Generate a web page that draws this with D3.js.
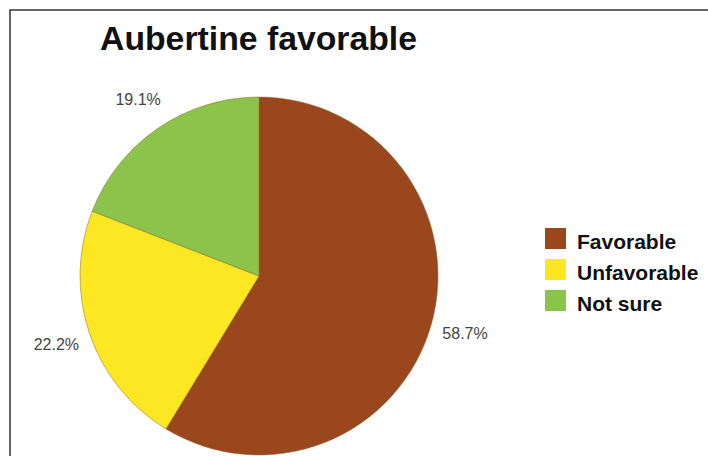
<!DOCTYPE html>
<html>
<head>
<meta charset="utf-8">
<script src="https://cdn.jsdelivr.net/npm/d3@7/dist/d3.min.js"></script>
<style>
  html, body { margin: 0; padding: 0; background: #fff; }
  svg { display: block; }
</style>
</head>
<body>
<svg id="chart" width="708" height="456"></svg>
<script>
const title = "Aubertine favorable";
const categories = ["Favorable", "Unfavorable", "Not sure"];
const values = [58.7, 22.2, 19.1];
const colors = ["#9a471d", "#fde622", "#8cc34b"];

const svg = d3.select("#chart");
const W = 708, H = 456;

// frame
svg.append("rect")
  .attr("x", 10).attr("y", 10)
  .attr("width", W + 20).attr("height", H + 20)
  .attr("fill", "#fff")
  .attr("stroke", "#333").attr("stroke-width", 1.5);

svg.append("text")
  .attr("x", 100).attr("y", 50)
  .attr("font-family", "Liberation Sans, Arial, Helvetica, sans-serif")
  .attr("font-weight", "bold")
  .attr("font-size", 33)
  .attr("textLength", 317)
  .attr("lengthAdjust", "spacingAndGlyphs")
  .attr("fill", "#111")
  .text(title);

const cx = 259, cy = 276, R = 179;
const data = categories.map((c, i) => ({ cat: c, value: values[i], color: colors[i] }));
const pie = d3.pie().sort(null).value(d => d.value);
const arcs = pie(data);
const arc = d3.arc().innerRadius(0).outerRadius(R);
const labelArc = d3.arc().innerRadius(214).outerRadius(214);

const g = svg.append("g").attr("transform", `translate(${cx},${cy})`);
g.selectAll("path.slice")
  .data(arcs)
  .enter().append("path")
  .attr("class", "slice")
  .attr("d", arc)
  .attr("fill", d => d.data.color)
  .attr("stroke", "#8a6a2a")
  .attr("stroke-width", 0.5);

g.selectAll("text.lbl")
  .data(arcs)
  .enter().append("text")
  .attr("class", "lbl")
  .attr("transform", d => `translate(${labelArc.centroid(d)})`)
  .attr("text-anchor", "middle")
  .attr("dominant-baseline", "central")
  .attr("font-family", "Liberation Sans, Arial, Helvetica, sans-serif")
  .attr("font-size", 16)
  .attr("fill", "#444")
  .text(d => d3.format(".1f")(d.data.value) + "%");

// legend
const leg = svg.append("g").attr("transform", "translate(545,228)");
const items = leg.selectAll("g.item")
  .data(data)
  .enter().append("g")
  .attr("class", "item")
  .attr("transform", (d, i) => `translate(0,${i * 31})`);
items.append("rect")
  .attr("width", 21).attr("height", 21)
  .attr("fill", d => d.color);
items.append("text")
  .attr("x", 32).attr("y", 21)
  .attr("font-family", "Liberation Sans, Arial, Helvetica, sans-serif")
  .attr("font-weight", "bold")
  .attr("font-size", 21)
  .attr("fill", "#111")
  .text(d => d.cat);
</script>
</body>
</html>
